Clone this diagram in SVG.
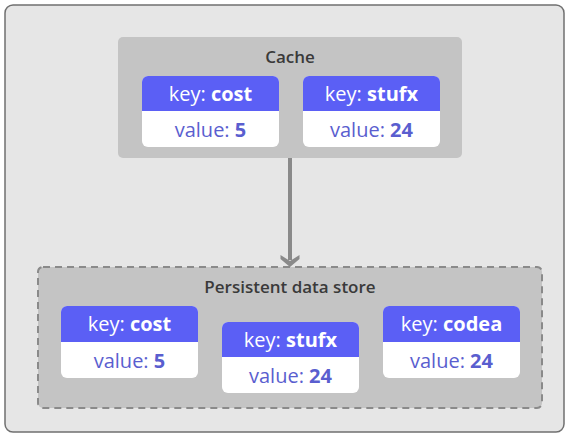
<svg xmlns="http://www.w3.org/2000/svg" width="569" height="438" viewBox="0 0 569 438">
<style>
.frame{fill:#e6e6e6;stroke:#707070;stroke-width:1.5}
.group{fill:#c4c4c4}
.dashed{fill:#c4c4c4;stroke:#8a8a8a;stroke-width:2;stroke-dasharray:7 5}
.hdr{fill:#5b5ff5}
.val{fill:#ffffff}
.title{font-family:"Open Sans","Noto Sans",sans-serif;font-size:17px;font-weight:600;fill:#3a3a3a;text-anchor:middle}
.key{font-family:"Open Sans","Noto Sans",sans-serif;font-size:20px;fill:#ffffff;text-anchor:middle}
.v{font-family:"Open Sans","Noto Sans",sans-serif;font-size:20px;fill:#5a5ecf;text-anchor:middle}
.b{font-weight:700}
.conn{stroke:#8a8a8a;stroke-width:4;fill:none}
.head{fill:#8a8a8a}
</style>
<rect class="frame" x="5" y="5" width="559" height="427" rx="8"/>
<g id="cache">
<rect class="group" x="118" y="37" width="344" height="121" rx="5"/>
<text class="title" x="290" y="63">Cache</text>
</g>
<g id="store">
<rect class="dashed" x="38" y="267" width="504" height="141" rx="5"/>
<text class="title" x="290" y="293">Persistent data store</text>
</g>
<g id="connectors">
<line class="conn" x1="290" y1="158" x2="290" y2="260"/>
<path class="head" d="M280.5,255 L290,261 L299.5,255 L299.5,259 L290,267 L280.5,259 Z"/>
</g>
<g id="cache-cost">
<rect class="val" x="142" y="76" width="137" height="71" rx="6"/>
<path class="hdr" d="M142,111 V82 a6,6 0 0 1 6,-6 H273 a6,6 0 0 1 6,6 V111 Z"/>
<text class="key" x="210.5" y="101">key: <tspan class="b">cost</tspan></text>
<text class="v" x="210.5" y="137">value: <tspan class="b">5</tspan></text>
</g>
<g id="cache-stufx">
<rect class="val" x="303" y="76" width="137" height="71" rx="6"/>
<path class="hdr" d="M303,111 V82 a6,6 0 0 1 6,-6 H434 a6,6 0 0 1 6,6 V111 Z"/>
<text class="key" x="371.5" y="101">key: <tspan class="b">stufx</tspan></text>
<text class="v" x="371.5" y="137">value: <tspan class="b">24</tspan></text>
</g>
<g id="store-cost">
<rect class="val" x="61" y="306" width="137" height="72" rx="6"/>
<path class="hdr" d="M61,342 V312 a6,6 0 0 1 6,-6 H192 a6,6 0 0 1 6,6 V342 Z"/>
<text class="key" x="129.5" y="331">key: <tspan class="b">cost</tspan></text>
<text class="v" x="129.5" y="368">value: <tspan class="b">5</tspan></text>
</g>
<g id="store-stufx">
<rect class="val" x="222" y="322" width="137" height="71" rx="6"/>
<path class="hdr" d="M222,357 V328 a6,6 0 0 1 6,-6 H353 a6,6 0 0 1 6,6 V357 Z"/>
<text class="key" x="290.5" y="347">key: <tspan class="b">stufx</tspan></text>
<text class="v" x="290.5" y="383">value: <tspan class="b">24</tspan></text>
</g>
<g id="store-codea">
<rect class="val" x="383" y="306" width="137" height="72" rx="6"/>
<path class="hdr" d="M383,342 V312 a6,6 0 0 1 6,-6 H514 a6,6 0 0 1 6,6 V342 Z"/>
<text class="key" x="451.5" y="331">key: <tspan class="b">codea</tspan></text>
<text class="v" x="451.5" y="368">value: <tspan class="b">24</tspan></text>
</g>
</svg>
